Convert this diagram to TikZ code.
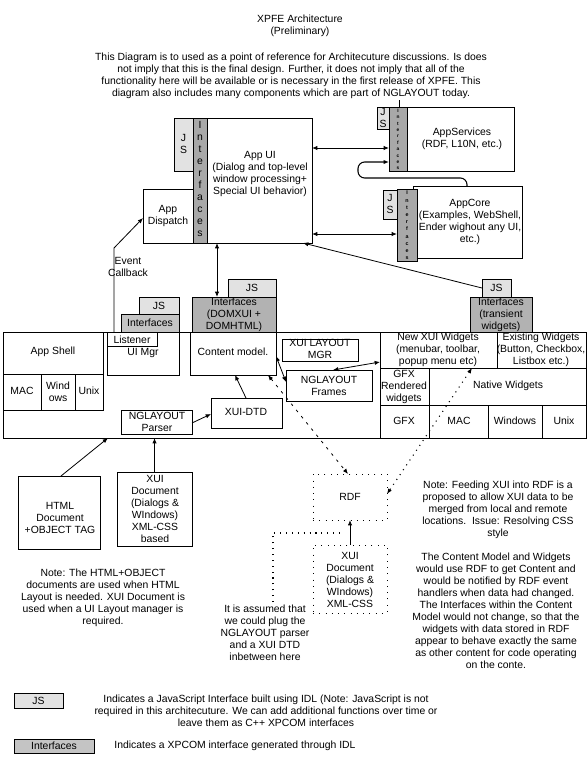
\documentclass[tikz,border=0pt]{standalone}
\usepackage{fontspec}
\setmainfont{Liberation Sans}
\usetikzlibrary{fit,arrows.meta}
\definecolor{jsfill}{HTML}{E2E2E2}
\definecolor{iffill}{HTML}{C4C4C4}
\definecolor{ifdark}{HTML}{B2B2B2}
\definecolor{stripfill}{HTML}{A8A8A8}
\begin{document}
\begin{tikzpicture}[x=0.75pt,y=-0.75pt,
  every node/.style={font=\fontsize{7.8}{9}\selectfont, inner sep=0pt, outer sep=0pt},
  txt/.style={align=center},
  box/.style={draw, fill=white, line width=0.6pt},
  jsbox/.style={box, fill=jsfill},
  ifbox/.style={box, fill=iffill},
  ifdbox/.style={box, fill=ifdark},
  stripbox/.style={box, fill=stripfill},
  dotbox/.style={draw, line width=0.7pt, dash pattern=on 0.7pt off 4pt},
  tip/.tip={Latex[length=4pt,width=3.2pt]},
  arr/.style={line width=0.6pt, -tip},
  darr/.style={line width=0.6pt, tip-tip},
  dashconn/.style={line width=0.6pt, dash pattern=on 2pt off 4pt},
  dotconn/.style={line width=0.8pt, dash pattern=on 0.8pt off 3.6pt}
]
\useasboundingbox (0,0) rectangle (588,768);

% ---------- title and intro ----------
\node[txt] (title) at (300,26) {XPFE Architecture\\(Preliminary)};
\node[txt] (intro) at (291,76) {This Diagram is to used as a point of reference for Architecuture discussions. Is does\\
not imply that this is the final design. Further, it does not imply that all of the\\
functionality here will be available or is necessary in the first release of XPFE. This\\
diagram also includes many components which are part of NGLAYOUT today.};

% ---------- App UI group ----------
\node[box, fit={(143,189) (193,243)}] (appdisp) {};
\node[txt] (appdispt) at (168,215.5) {App\\Dispatch};
\node[jsbox, fit={(174,118) (193,171)}] (jsui) {};
\node[txt] (jsuit) at (183.5,143.5) {J\\S};
\node[box, fit={(207,118) (312,243)}] (appui) {};
\node[txt] (appuit) at (260,174) {App UI\\(Dialog and top-level\\window processing+\\Special UI behavior)};
\node[stripbox, fit={(193,118) (207,243)}] (strip) {};
\node[txt] (stript) at (200,179) {I\\n\\t\\e\\r\\f\\a\\c\\e\\s};

% ---------- AppServices ----------
\node[jsbox, fit={(377,107) (389,129)}] (asjs) {};
\node[txt] (asjst) at (383,118) {J\\S};
\node[box, fit={(407,107) (514,171)}] (asbox) {};
\node[txt] (asboxt) at (462,139) {AppServices\\(RDF, L10N, etc.)};
\node[stripbox, fit={(389,107) (407,171)}] (asstrip) {};
\node[txt, font=\fontsize{3.6}{4.8}\selectfont\bfseries] (asstript) at (398,139.5) {I\\n\\t\\e\\r\\f\\a\\c\\e\\s};

% ---------- AppCore ----------
\node[jsbox, fit={(383,190) (397,219)}] (acjs) {};
\node[txt] (acjst) at (390,204) {J\\S};
\node[box, fit={(413,186) (522,258)}] (acbox) {};
\node[txt] (acboxt) at (470,222) {AppCore\\(Examples, WebShell,\\Ender wighout any UI,\\etc.)};
\node[stripbox, fit={(397,189) (417,261)}] (acstrip) {};
\node[txt, font=\fontsize{4}{5.4}\selectfont\bfseries] (acstript) at (407,225.5) {I\\n\\t\\e\\r\\f\\a\\c\\e\\s};

% ---------- big frame ----------
\node[box, fit={(3,332) (586,438)}] (frame) {};

% left part
\node[box, fit={(3,332) (103,374)}] (appshell) {};
\node (appshellt) at (53,352) {App Shell};
\node[box, fit={(3,374) (41,410)}] (mac1) {};
\node (mac1t) at (22,391) {MAC};
\node[box, fit={(41,374) (75,410)}] (win1) {};
\node[txt] (win1t) at (58,392) {Wind\\ows};
\node[box, fit={(75,374) (103,410)}] (unix1) {};
\node (unix1t) at (89,391) {Unix};

\node[box, fit={(107,332) (179,375)}] (uimgr) {};
\node (uimgrt) at (143,353) {UI Mgr};
\node[box, fit={(107,332) (157,346)}] (listener) {};
\node (listenert) at (132,339.5) {Listener};

\node[box, fit={(190,332) (276,375)}] (content) {};
\node (contentt) at (233,352) {Content model.};

\node[box, fit={(282,339) (358,361)}] (xuilayout) {};
\node[txt] (xuilayoutt) at (320,349) {XUI LAYOUT\\MGR};
\node[box, fit={(286,370) (372,401)}] (frames) {};
\node[txt] (framest) at (329,386) {NGLAYOUT\\Frames};
\node[box, fit={(211,398) (282,428)}] (xuidtd) {};
\node (xuidtdt) at (246,412) {XUI-DTD};
\node[box, fit={(121,410) (192,434)}] (parser) {};
\node[txt] (parsert) at (157,421.5) {NGLAYOUT\\Parser};

% right part
\node[box, fit={(380,332) (497,368)}] (newxui) {};
\node[txt] (newxuit) at (438,350) {New XUI Widgets\\(menubar, toolbar,\\popup menu etc)};
\node[box, fit={(497,332) (586,368)}] (existing) {};
\node[txt] (existingt) at (541,350) {Existing Widgets\\(Button, Checkbox,\\Listbox etc.)};
\node[box, fit={(380,368) (429,405)}] (gfxr) {};
\node[txt] (gfxrt) at (404,386.5) {GFX\\Rendered\\widgets};
\node[box, fit={(429,368) (586,405)}] (native) {};
\node (nativet) at (508,386) {Native Widgets};
\node[box, fit={(380,405) (429,438)}] (gfx) {};
\node (gfxt) at (404,421) {GFX};
\node[box, fit={(429,405) (488,438)}] (mac2) {};
\node (mac2t) at (459,421) {MAC};
\node[box, fit={(488,405) (542,438)}] (win2) {};
\node (win2t) at (515,421) {Windows};
\node[box, fit={(542,405) (586,438)}] (unix2) {};
\node (unix2t) at (564,421) {Unix};

% ---------- interface stacks ----------
\node[jsbox, fit={(139,297) (179,314)}] (uijs) {};
\node (uijst) at (159,305.5) {JS};
\node[ifbox, fit={(121,314) (179,332)}] (uiif) {};
\node (uiift) at (150,323) {Interfaces};

\node[jsbox, fit={(228,279) (276,297)}] (domjs) {};
\node (domjst) at (252,288) {JS};
\node[ifdbox, fit={(192,297) (276,332)}] (domif) {};
\node[txt] (domift) at (234,314.5) {Interfaces\\(DOMXUI +\\DOMHTML)};

\node[jsbox, fit={(482,279) (511,297)}] (tjs) {};
\node (tjst) at (496.5,288) {JS};
\node[ifdbox, fit={(470,297) (532,332)}] (tif) {};
\node[txt] (tift) at (501,314.5) {Interfaces\\(transient\\widgets)};

% ---------- lower documents ----------
\node[box, fit={(18,476) (100,549)}] (htmldoc) {};
\node[txt] (htmldoct) at (60,518) {HTML\\Document\\+OBJECT TAG};
\node[box, fit={(117,472) (192,546)}] (xuidoc) {};
\node[txt] (xuidoct) at (155,509) {XUI\\Document\\(Dialogs \&\\WIndows)\\XML-CSS\\based};

\node[dotbox, fit={(313,474) (387,520)}] (rdf) {};
\node (rdft) at (350,497) {RDF};
\node[dotbox, fit={(313,545) (387,613)}] (rdfxui) {};
\node[txt] (rdfxuit) at (350,580) {XUI\\Document\\(Dialogs \&\\WIndows)\\XML-CSS};

% ---------- notes ----------
\node[txt] (noteleft) at (103,598) {Note: The HTML+OBJECT\\documents are used when HTML\\Layout is needed. XUI Document is\\used when a UI Layout manager is\\required.};
\node[txt] (noteassume) at (265,633) {It is assumed that\\we could plug the\\NGLAYOUT parser\\and a XUI DTD\\inbetween here};
\node[txt] (noterdf) at (498,509.5) {Note: Feeding XUI into RDF is a\\proposed to allow XUI data to be\\merged from local and remote\\locations.\ \ Issue: Resolving CSS\\style};
\node[txt] (notecm) at (496,610.5) {The Content Model and Widgets\\would use RDF to get Content and\\would be notified by RDF event\\handlers when data had changed.\\The Interfaces within the Content\\Model would not change, so that the\\widgets with data stored in RDF\\appear to behave exactly the same\\as other content for code operating\\on the conte.};

% ---------- legend ----------
\node[jsbox, fit={(14,693) (63,708)}] (legjs) {};
\node (legjst) at (38.5,700.5) {JS};
\node[txt] (legjstxt) at (266,710.5) {Indicates a JavaScript Interface built using IDL (Note: JavaScript is not\\required in this architecuture. We can add additional functions over time or\\leave them as C++ XPCOM interfaces};
\node[ifbox, fit={(14,739) (94,753)}] (legif) {};
\node (legift) at (54,746) {Interfaces};
\node (legiftxt) at (235,746) {Indicates a XPCOM interface generated through IDL};

% ---------- connectors ----------
\draw[line width=0.6pt] (asstrip.north -| 399,0) -- (399,100);
\draw[darr] (appui.east |- 0,148) -- (asstrip.west |- 0,148);
\draw[darr] (appui.east |- 0,234) -- (acstrip.west |- 0,234);
\draw[arr, line width=0.8pt, rounded corners=5pt] (acbox.north -| 467,0) |- (358,178) |- (asstrip.west |- 0,162);
\draw[arr] (tjs.west) -- (appui.south -| 303,0);
\draw[arr] (listener.north -| 114,0) -- (114,248) -- (appdisp.west |- 0,218);
\node[txt] (evcb) at (128,266.5) {Event\\Callback};
\draw[darr] (appui.south -| 217,0) -- (domif.north -| 217,0);
\draw[arr] (xuidtd.north -| 246,0) -- (content.south -| 235,0);
\draw[arr] (parser.east |- 0,423) -- (xuidtd.west |- 0,414);
\draw[arr] (htmldoc.north -| 61,0) -- (frame.south -| 108,0);
\draw[arr] (xuidoc.north) -- (frame.south -| xuidoc.north);
\draw[darr] (content.east |- 0,356) -- (frames.west |- 0,382);
\draw[darr] (frames.north -| 333,0) -- (newxui.west |- 0,362);
\draw[dashconn, tip-tip] (content.south -| 268,0) -- (rdf.north -| 348,0);
\draw[dotconn, tip-tip] (newxui.south -| 472,0) -- (rdf.east |- 0,494);
\draw[arr] (rdfxui.north) -- (rdf.south);
\draw[dotconn] (273,602) -- (273,533) -- (343,533);
\end{tikzpicture}
\end{document}
